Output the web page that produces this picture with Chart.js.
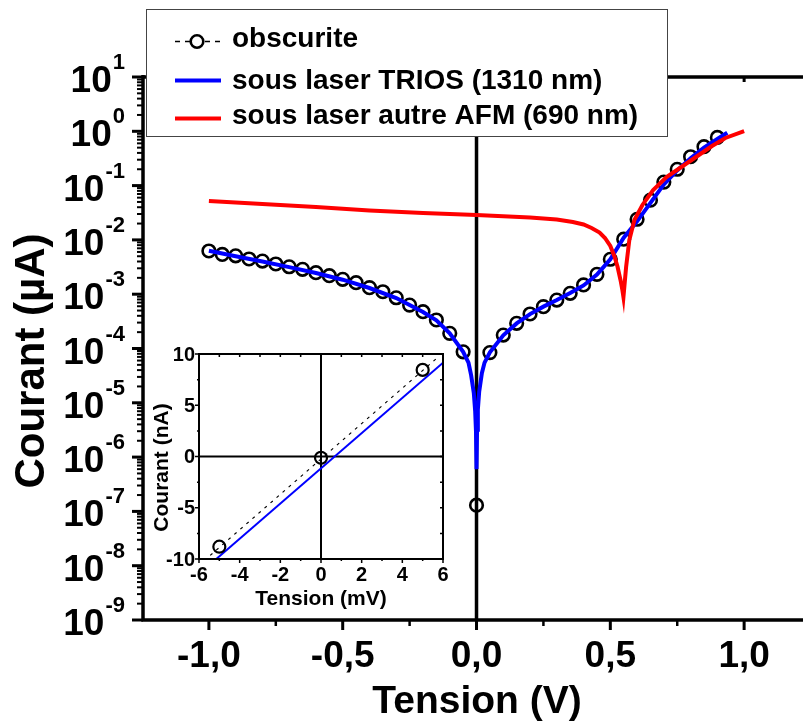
<!DOCTYPE html>
<html>
<head>
<meta charset="utf-8">
<title>Courant - Tension</title>
<script src="https://cdn.jsdelivr.net/npm/chart.js@4.4.1/dist/chart.umd.min.js"></script>
<style>
  body { margin: 0; background: #fff; }
  #wrap { position: relative; width: 803px; height: 724px; overflow: hidden; }
  #mainChart { position: absolute; left: 0; top: 0; }
  #insetChart { position: absolute; left: 140px; top: 335px; }
</style>
</head>
<body>
<div id="wrap">
  <canvas id="mainChart" width="803" height="724"></canvas>
  <canvas id="insetChart" width="320" height="285"></canvas>
</div>
<script>
// Main plot data (Tension in V, Courant in µA)
const darkTension = [-1.0, -0.95, -0.9, -0.85, -0.8, -0.75, -0.7, -0.65, -0.6, -0.55,
  -0.5, -0.45, -0.4, -0.35, -0.3, -0.25, -0.2, -0.15, -0.1, -0.05, 0,
  0.05, 0.1, 0.15, 0.2, 0.25, 0.3, 0.35, 0.4, 0.45, 0.5, 0.55, 0.6, 0.65,
  0.7, 0.75, 0.8, 0.85, 0.9];
const darkCourant = [6.25e-3, 5.4e-3, 5.1e-3, 4.45e-3, 4.08e-3, 3.6e-3, 3.2e-3, 2.87e-3, 2.49e-3, 2.19e-3,
  1.88e-3, 1.63e-3, 1.32e-3, 1.11e-3, 8.6e-4, 6.3e-4, 4.76e-4, 3.35e-4, 1.9e-4, 8.7e-5, 1.3e-7,
  8.4e-5, 1.77e-4, 2.91e-4, 4.32e-4, 5.9e-4, 7.8e-4, 1.04e-3, 1.48e-3, 2.32e-3, 4.4e-3, 1.03e-2, 2.4e-2, 5.4e-2,
  0.116, 0.2, 0.34, 0.52, 0.77];

const triosTension = [-1.0, -0.9, -0.8, -0.7, -0.6, -0.5, -0.4, -0.3, -0.25, -0.2, -0.15, -0.1, -0.05,
  -0.03, -0.02, -0.01, -0.005, -0.002, 0, 0.002, 0.005, 0.01, 0.02, 0.03, 0.05,
  0.1, 0.15, 0.2, 0.25, 0.3, 0.35, 0.4, 0.45, 0.5, 0.55, 0.6, 0.65, 0.7, 0.75, 0.8, 0.85, 0.9, 0.937];
const triosCourant = [6.3e-3, 5.0e-3, 4.0e-3, 3.15e-3, 2.45e-3, 1.85e-3, 1.3e-3, 8.5e-4, 6.3e-4, 4.7e-4, 3.3e-4, 1.9e-4, 8.7e-5,
  5.5e-5, 3.2e-5, 1.5e-5, 7e-6, 3e-6, 6e-7, 3.2e-6, 7.5e-6, 1.6e-5, 3.5e-5, 5.5e-5, 8.5e-5,
  1.75e-4, 2.9e-4, 4.3e-4, 5.9e-4, 7.8e-4, 1.05e-3, 1.45e-3, 2.3e-3, 4.4e-3, 1.1e-2, 2.2e-2, 4.8e-2, 0.105, 0.19, 0.32, 0.5, 0.72, 0.94];

const afmTension = [-1.0, -0.8, -0.6, -0.4, -0.2, 0, 0.2, 0.3, 0.36, 0.4, 0.43, 0.46, 0.48, 0.5, 0.515, 0.527, 0.538, 0.545,
  0.549, 0.553, 0.559, 0.571, 0.59, 0.62, 0.66, 0.71, 0.76, 0.82, 0.88, 0.93, 1.0];
const afmCourant = [0.0521, 0.0458, 0.0403, 0.0348, 0.0313, 0.0287, 0.02585, 0.02375, 0.02137, 0.01921, 0.01657, 0.01369, 0.01084, 0.00772, 0.00505, 0.00321, 0.00183, 0.0012,
  8.9e-4, 1.48e-3, 3.17e-3, 9.95e-3, 0.0232, 0.044, 0.083, 0.144, 0.211, 0.336, 0.536, 0.753, 1.01];

const mainXTicks = [-1.0, -0.5, 0.0, 0.5, 1.0];
const mainXMinor = [-0.75, -0.25, 0.25, 0.75];
const mainYExponents = [-9, -8, -7, -6, -5, -4, -3, -2, -1, 0, 1];

// Inset data (Tension in mV, Courant in nA)
const insetDarkTension = [-5, 0, 5];
const insetDarkCourant = [-8.8, -0.13, 8.45];
const insetFitTension = [-5.45, 5.7];
const insetFitCourant = [-9.65, 9.6];
const insetTriosTension = [-5.15, 6];
const insetTriosCourant = [-10, 9.15];
const insetXTicks = [-6, -4, -2, 0, 2, 4, 6];
const insetYTicks = [-10, -5, 0, 5, 10];

const legendLabels = ["obscurite", "sous laser TRIOS (1310 nm)", "sous laser autre AFM (690 nm)"];

const font = (size) => `bold ${size}px "Liberation Sans", Arial, sans-serif`;
const toPoints = (xs, ys) => xs.map((v, i) => ({ x: v, y: ys[i] }));

// Axes, ticks, labels and the x = 0 line of the main plot
const mainFrame = {
  id: "mainFrame",
  beforeDatasetsDraw(chart) {
    const { ctx, chartArea: a, scales } = chart;
    const x0 = scales.x.getPixelForValue(0);
    ctx.save();
    ctx.strokeStyle = "#000";
    ctx.lineWidth = 3.5;
    ctx.beginPath();
    ctx.moveTo(x0, a.top);
    ctx.lineTo(x0, a.bottom);
    ctx.stroke();
    ctx.restore();
  },
  afterDatasetsDraw(chart) {
    const { ctx, chartArea: a, scales } = chart;
    const xs = scales.x;
    const ys = scales.y;
    const left = a.left + 1;
    ctx.save();
    ctx.strokeStyle = "#000";
    ctx.fillStyle = "#000";

    // axis lines
    ctx.lineWidth = 3.5;
    ctx.beginPath();
    ctx.moveTo(left, a.top - 2);
    ctx.lineTo(left, a.bottom);
    ctx.lineTo(a.right, a.bottom);
    ctx.moveTo(left, a.top);
    ctx.lineTo(a.right, a.top);
    ctx.stroke();

    // x ticks
    ctx.lineWidth = 3;
    mainXTicks.forEach((v) => {
      const px = xs.getPixelForValue(v);
      ctx.beginPath();
      ctx.moveTo(px, a.bottom);
      ctx.lineTo(px, a.bottom + 10);
      ctx.moveTo(px, a.top);
      ctx.lineTo(px, a.top + 5);
      ctx.stroke();
    });
    ctx.lineWidth = 2.5;
    mainXMinor.forEach((v) => {
      const px = xs.getPixelForValue(v);
      ctx.beginPath();
      ctx.moveTo(px, a.bottom);
      ctx.lineTo(px, a.bottom + 6);
      ctx.stroke();
    });

    // y ticks (log)
    mainYExponents.forEach((n) => {
      const py = ys.getPixelForValue(Math.pow(10, n));
      ctx.lineWidth = 3;
      ctx.beginPath();
      ctx.moveTo(left - 11, py);
      ctx.lineTo(left, py);
      ctx.stroke();
      if (n < 1) {
        ctx.lineWidth = 2;
        for (let k = 2; k <= 9; k++) {
          const pm = ys.getPixelForValue(k * Math.pow(10, n));
          ctx.beginPath();
          ctx.moveTo(left - 6, pm);
          ctx.lineTo(left, pm);
          ctx.stroke();
        }
      }
    });

    // y tick labels: 10 with superscript exponent
    ctx.textAlign = "right";
    ctx.textBaseline = "alphabetic";
    mainYExponents.forEach((n) => {
      const py = ys.getPixelForValue(Math.pow(10, n));
      const exp = String(n);
      ctx.font = font(22);
      const w = ctx.measureText(exp).width;
      ctx.fillText(exp, 125, py - 8);
      ctx.font = font(37);
      ctx.fillText("10", 124 - w, py + 15);
    });

    // x tick labels
    ctx.textAlign = "center";
    ctx.font = font(37);
    mainXTicks.forEach((v) => {
      ctx.fillText(v.toFixed(1).replace(".", ","), xs.getPixelForValue(v), a.bottom + 47);
    });

    // axis titles
    ctx.font = font(39);
    ctx.fillText("Tension (V)", 477, 713);
    ctx.translate(44, 361);
    ctx.rotate(-Math.PI / 2);
    ctx.font = font(42);
    ctx.fillText("Courant (µA)", 0, 0);
    ctx.restore();
  },
  afterDraw(chart) {
    // framed legend in the top-left corner
    const { ctx } = chart;
    ctx.save();
    ctx.fillStyle = "#fff";
    ctx.fillRect(146.5, 9.5, 521, 127);
    ctx.strokeStyle = "#444";
    ctx.lineWidth = 1;
    ctx.strokeRect(146.5, 9.5, 521, 127);

    // obscurite: dashed line with open circle
    ctx.strokeStyle = "#000";
    ctx.lineWidth = 1.5;
    ctx.setLineDash([5, 5]);
    ctx.beginPath();
    ctx.moveTo(175, 41.5);
    ctx.lineTo(223, 41.5);
    ctx.stroke();
    ctx.setLineDash([]);
    ctx.lineWidth = 2.6;
    ctx.fillStyle = "#fff";
    ctx.beginPath();
    ctx.arc(197, 41.5, 6.3, 0, 2 * Math.PI);
    ctx.fill();
    ctx.stroke();

    ctx.lineWidth = 4;
    ctx.strokeStyle = "#0000ff";
    ctx.beginPath();
    ctx.moveTo(175, 80.5);
    ctx.lineTo(221, 80.5);
    ctx.stroke();
    ctx.strokeStyle = "#ff0000";
    ctx.beginPath();
    ctx.moveTo(175, 118.5);
    ctx.lineTo(221, 118.5);
    ctx.stroke();

    ctx.fillStyle = "#000";
    ctx.font = font(28);
    ctx.textAlign = "left";
    ctx.textBaseline = "alphabetic";
    ctx.fillText(legendLabels[0], 232, 47);
    ctx.fillText(legendLabels[1], 232, 89);
    ctx.fillText(legendLabels[2], 232, 124);
    ctx.restore();
  },
};

const mainChart = new Chart(document.getElementById("mainChart"), {
  type: "scatter",
  data: {
    datasets: [
      {
        label: legendLabels[2],
        data: toPoints(afmTension, afmCourant),
        showLine: true,
        borderColor: "#ff0000",
        borderWidth: 4,
        pointRadius: 0,
        order: 0,
      },
      {
        label: legendLabels[1],
        data: toPoints(triosTension, triosCourant),
        showLine: true,
        borderColor: "#0000ff",
        borderWidth: 4,
        pointRadius: 0,
        order: 1,
      },
      {
        label: legendLabels[0],
        data: toPoints(darkTension, darkCourant),
        showLine: false,
        pointRadius: 6.3,
        pointBorderWidth: 2.6,
        pointBorderColor: "#000",
        pointBackgroundColor: "rgba(0,0,0,0)",
        order: 2,
      },
    ],
  },
  options: {
    responsive: false,
    animation: false,
    events: [],
    layout: { autoPadding: false, padding: { left: 142, top: 77, right: 0, bottom: 104 } },
    scales: {
      x: { type: "linear", min: -1.25, max: 1.22, display: false },
      y: { type: "logarithmic", min: 1e-9, max: 10, display: false },
    },
    plugins: { legend: { display: false }, tooltip: { enabled: false } },
  },
  plugins: [mainFrame],
});

// Inset: frame, zero lines, ticks and labels
const insetFrame = {
  id: "insetFrame",
  beforeDatasetsDraw(chart) {
    const { ctx, chartArea: a, scales } = chart;
    const x0 = scales.x.getPixelForValue(0);
    const y0 = scales.y.getPixelForValue(0);
    ctx.save();
    ctx.strokeStyle = "#000";
    ctx.lineWidth = 2;
    ctx.beginPath();
    ctx.moveTo(a.left, y0);
    ctx.lineTo(a.right, y0);
    ctx.moveTo(x0, a.top);
    ctx.lineTo(x0, a.bottom);
    ctx.stroke();
    ctx.restore();
  },
  afterDatasetsDraw(chart) {
    const { ctx, chartArea: a, scales } = chart;
    const xs = scales.x;
    const ys = scales.y;
    ctx.save();
    ctx.strokeStyle = "#000";
    ctx.fillStyle = "#000";
    ctx.lineWidth = 2;
    ctx.strokeRect(a.left, a.top, a.right - a.left, a.bottom - a.top);

    ctx.lineWidth = 1.5;
    for (let v = -6; v <= 6; v++) {
      const px = xs.getPixelForValue(v);
      ctx.beginPath();
      ctx.moveTo(px, a.bottom);
      ctx.lineTo(px, a.bottom + (v % 2 === 0 ? 4 : 2));
      ctx.moveTo(px, a.top);
      ctx.lineTo(px, a.top + 3);
      ctx.stroke();
    }
    for (let v = -10; v <= 10; v += 2.5) {
      const py = ys.getPixelForValue(v);
      ctx.beginPath();
      ctx.moveTo(a.left - (v % 5 === 0 ? 4 : 2), py);
      ctx.lineTo(a.left, py);
      ctx.moveTo(a.right, py);
      ctx.lineTo(a.right - 3, py);
      ctx.stroke();
    }

    ctx.font = font(20);
    ctx.textAlign = "right";
    ctx.textBaseline = "middle";
    insetYTicks.forEach((v) => ctx.fillText(String(v), a.left - 4, ys.getPixelForValue(v) + 1));
    ctx.textAlign = "center";
    ctx.textBaseline = "alphabetic";
    insetXTicks.forEach((v) => ctx.fillText(String(v), xs.getPixelForValue(v), a.bottom + 22));

    ctx.font = font(21);
    ctx.fillText("Tension (mV)", (a.left + a.right) / 2, a.bottom + 46);
    ctx.translate(28, (a.top + a.bottom) / 2 + 11);
    ctx.rotate(-Math.PI / 2);
    ctx.fillText("Courant (nA)", 0, 0);
    ctx.restore();
  },
};

const insetChart = new Chart(document.getElementById("insetChart"), {
  type: "scatter",
  data: {
    datasets: [
      {
        label: legendLabels[0],
        data: toPoints(insetDarkTension, insetDarkCourant),
        showLine: false,
        pointRadius: 6,
        pointBorderWidth: 2.2,
        pointBorderColor: "#000",
        pointBackgroundColor: "rgba(0,0,0,0)",
        order: 0,
      },
      {
        label: legendLabels[1],
        data: toPoints(insetTriosTension, insetTriosCourant),
        showLine: true,
        borderColor: "#0000ff",
        borderWidth: 2,
        pointRadius: 0,
        order: 1,
      },
      {
        label: "fit",
        data: toPoints(insetFitTension, insetFitCourant),
        showLine: true,
        borderColor: "#000",
        borderWidth: 1.2,
        borderDash: [3, 5],
        pointRadius: 0,
        order: 2,
      },
    ],
  },
  options: {
    responsive: false,
    animation: false,
    events: [],
    layout: { autoPadding: false, padding: { left: 59, top: 19, right: 17, bottom: 61 } },
    scales: {
      x: { type: "linear", min: -6, max: 6, display: false },
      y: { type: "linear", min: -10, max: 10, display: false },
    },
    plugins: { legend: { display: false }, tooltip: { enabled: false } },
  },
  plugins: [insetFrame],
});
</script>
</body>
</html>
